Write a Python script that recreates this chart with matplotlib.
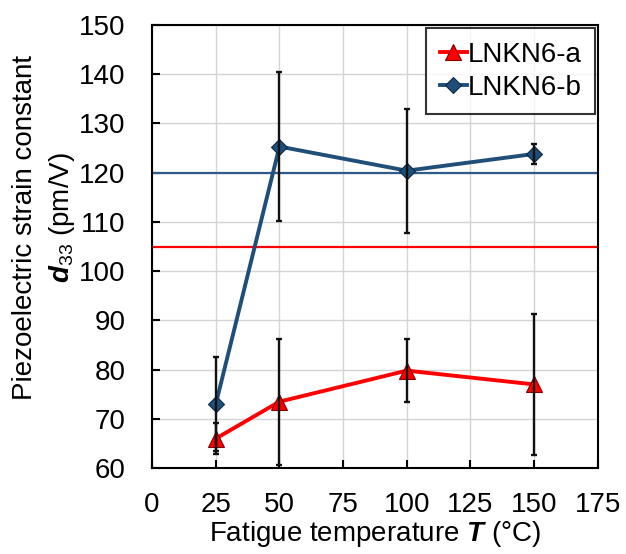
import matplotlib
matplotlib.use("Agg")
import matplotlib.pyplot as plt

plt.rcParams['font.family'] = ['Liberation Sans', 'DejaVu Sans']
plt.rcParams['mathtext.fontset'] = 'custom'
plt.rcParams['mathtext.rm'] = 'Liberation Sans'
plt.rcParams['mathtext.it'] = 'Liberation Sans:italic'
plt.rcParams['mathtext.bf'] = 'Liberation Sans:bold'
plt.rcParams['mathtext.bfit'] = 'Liberation Sans:bold:italic'

# Fatigue temperatures (°C)
temps_a = [25, 50, 100, 150]
temps_b = [25, 50, 100, 150]

# d33 values (pm/V) and error bars
d33_a = [66.0, 73.5, 79.8, 77.0]
err_a = [3.2, 12.8, 6.4, 14.3]
d33_b = [73.0, 125.3, 120.4, 123.8]
err_b = [9.5, 15.2, 12.6, 2.0]

# Reference levels (pm/V)
ref_a = 105
ref_b = 120

red = '#FF0000'
blue = '#1F4E79'
FS = 20

fig = plt.figure(figsize=(6.26, 5.54), dpi=100)
ax = fig.add_axes([0.243, 0.155, 0.712, 0.80])

ax.axhline(ref_b, color='#2E5C8A', lw=1.6, zorder=2)
ax.axhline(ref_a, color=red, lw=1.6, zorder=2)

ax.plot(temps_a, d33_a, color=red, lw=2.8, marker='^', ms=11,
        mfc=red, mec='#800000', mew=0.8, label='LNKN6-a', zorder=3)
ax.plot(temps_b, d33_b, color=blue, lw=2.8, marker='D', ms=8.5,
        mfc=blue, mec='#0F2A45', mew=0.8, label='LNKN6-b', zorder=3)

ax.errorbar(temps_a, d33_a, yerr=err_a, fmt='none', ecolor='#111111',
            elinewidth=1.7, capsize=2.5, capthick=1.7, zorder=4)
ax.errorbar(temps_b, d33_b, yerr=err_b, fmt='none', ecolor='#111111',
            elinewidth=1.7, capsize=2.5, capthick=1.7, zorder=4)

ax.set_xlim(0, 175)
ax.set_ylim(60, 150)
ax.set_xticks(range(0, 176, 25))
ax.set_yticks(range(60, 151, 10))
ax.grid(True, color='#D4D4D4', lw=1.0, zorder=0)
ax.set_axisbelow(True)
ax.tick_params(direction='in', length=6, width=1.5, labelsize=FS)
ax.tick_params(axis='x', pad=17)
ax.tick_params(axis='y', pad=19)
for s in ax.spines.values():
    s.set_linewidth(1.5)

ax.set_xlabel(r'Fatigue temperature $\mathbfit{T}$ (°C)', fontsize=FS, labelpad=1)

# two-line y-axis title, placed line by line
W, H = 626, 554
fig.text(25 / W, 1 - 227 / H, 'Piezoelectric strain constant', rotation=90,
         ha='center', va='center', fontsize=FS)
fig.text(62 / W, 1 - 218 / H, r'$\mathbfit{d}_{33}$ (pm/V)', rotation=90,
         ha='center', va='center', fontsize=FS)

leg = ax.legend(loc='upper right', fontsize=FS, frameon=True, fancybox=False,
                edgecolor='black', handlelength=1.0, handletextpad=0.0,
                borderpad=0.5, labelspacing=0.25, borderaxespad=0.1)
leg.get_frame().set_linewidth(1.5)

fig.savefig('out.png', dpi=100)
